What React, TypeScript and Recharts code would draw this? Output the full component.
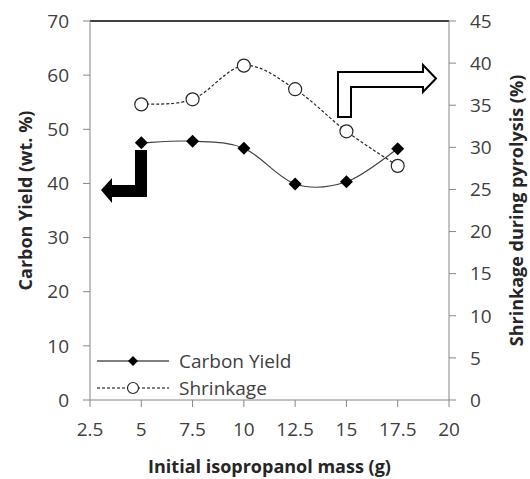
import {
  ComposedChart,
  Line,
  XAxis,
  YAxis,
  ReferenceLine,
} from 'recharts'

const massG = [5, 7.5, 10, 12.5, 15, 17.5]
const carbonYield = [47.5, 47.8, 46.5, 39.9, 40.3, 46.4]
const shrinkage = [35.1, 35.7, 39.7, 36.9, 31.9, 27.8]
const xTicks = [2.5, 5, 7.5, 10, 12.5, 15, 17.5, 20]
const leftTicks = [0, 10, 20, 30, 40, 50, 60, 70]
const rightTicks = [0, 5, 10, 15, 20, 25, 30, 35, 40, 45]

const data = massG.map((m, i) => ({ mass: m, carbon: carbonYield[i], shrink: shrinkage[i] }))

const FONT = '"Open Sans", "Noto Sans", sans-serif'
const tickStyle = { fill: '#404040', fontSize: 19, fontFamily: FONT }
const titleStyle = { fontFamily: FONT, fontSize: 18, fontWeight: 700, fill: '#262626' }

// Excel-like smoothed line (uniform Catmull-Rom as cubic beziers)
function smoothCurve(context: any) {
  let pts: number[][] = []
  return {
    areaStart() {},
    areaEnd() {},
    lineStart() {
      pts = []
    },
    point(x: number, y: number) {
      pts.push([+x, +y])
    },
    lineEnd() {
      if (!pts.length) return
      context.moveTo(pts[0][0], pts[0][1])
      for (let i = 0; i < pts.length - 1; i++) {
        const p0 = pts[i - 1] || pts[i]
        const p1 = pts[i]
        const p2 = pts[i + 1]
        const p3 = pts[i + 2] || pts[i + 1]
        context.bezierCurveTo(
          p1[0] + (p2[0] - p0[0]) / 6,
          p1[1] + (p2[1] - p0[1]) / 6,
          p2[0] - (p3[0] - p1[0]) / 6,
          p2[1] - (p3[1] - p1[1]) / 6,
          p2[0],
          p2[1]
        )
      }
    },
  }
}

function Diamond({ cx, cy }: any) {
  if (cx == null || cy == null) return null
  const r = 6.5
  return (
    <polygon
      points={`${cx},${cy - r} ${cx + r},${cy} ${cx},${cy + r} ${cx - r},${cy}`}
      fill="#000"
    />
  )
}

function OpenCircle({ cx, cy }: any) {
  if (cx == null || cy == null) return null
  return <circle cx={cx} cy={cy} r={6.5} fill="#fff" stroke="#262626" strokeWidth={1.2} />
}

function LegendBox() {
  const row = (label: string, dashed: boolean) => (
    <div style={{ display: 'flex', alignItems: 'center', height: 27 }}>
      <svg width={72} height={14}>
        <line
          x1={0}
          y1={7}
          x2={72}
          y2={7}
          stroke="#000"
          strokeWidth={1}
          strokeDasharray={dashed ? '3 2' : undefined}
        />
        {dashed ? (
          <circle cx={36} cy={7} r={5.5} fill="#fff" stroke="#262626" strokeWidth={1.2} />
        ) : (
          <polygon points="36,2 41,7 36,12 31,7" fill="#000" />
        )}
      </svg>
      <span style={{ marginLeft: 10, fontSize: 19, color: '#404040', fontFamily: FONT }}>{label}</span>
    </div>
  )
  return (
    <div style={{ position: 'absolute', left: 97, top: 347 }}>
      {row('Carbon Yield', false)}
      {row('Shrinkage', true)}
    </div>
  )
}

function LeftTitle({ viewBox }: any) {
  const x = 25
  const y = viewBox.y + viewBox.height / 2 - 10
  return (
    <text
      x={x}
      y={y}
      transform={`rotate(-90, ${x}, ${y})`}
      textAnchor="middle"
      dominantBaseline="central"
      style={titleStyle}
    >
      Carbon Yield (wt. %)
    </text>
  )
}

function RightTitle({ viewBox }: any) {
  const x = 516
  const y = viewBox.y + viewBox.height / 2
  return (
    <text
      x={x}
      y={y}
      transform={`rotate(-90, ${x}, ${y})`}
      textAnchor="middle"
      dominantBaseline="central"
      style={titleStyle}
    >
      Shrinkage during pyrolysis (%)
    </text>
  )
}

function Arrows() {
  return (
    <svg
      width={530}
      height={479}
      style={{ position: 'absolute', left: 0, top: 0, pointerEvents: 'none' }}
    >
      <polygon
        points="135,150 147,150 147,197 112,197 112,203 101,190 112,178 112,185 135,185"
        fill="#000"
      />
      <polygon
        points="338,117 351,117 351,87 423,87 423,92 436,78.5 423,65 423,72 338,72"
        fill="#fff"
        stroke="#000"
        strokeWidth={2}
      />
    </svg>
  )
}

export default function App() {
  return (
    <div style={{ position: 'absolute', left: 0, top: 0, width: 530, height: 479, background: '#fff' }}>
      <ComposedChart
        width={530}
        height={479}
        data={data}
        margin={{ top: 21, right: 0, left: 0, bottom: 0 }}
      >
        <XAxis
          dataKey="mass"
          type="number"
          domain={[2.5, 20]}
          ticks={xTicks}
          interval={0}
          height={79}
          stroke="#868686"
          tickSize={7}
          tickMargin={16}
          tick={tickStyle}
          tickFormatter={(v: number) => String(v)}
          label={{
            value: 'Initial isopropanol mass (g)',
            position: 'insideBottom',
            offset: 0,
            dy: -6,
            style: titleStyle,
          }}
        />
        <YAxis
          yAxisId="left"
          domain={[0, 70]}
          ticks={leftTicks}
          interval={0}
          width={90}
          stroke="#868686"
          tickSize={7}
          tickMargin={14}
          tick={tickStyle}
          label={<LeftTitle />}
        />
        <YAxis
          yAxisId="right"
          orientation="right"
          domain={[0, 45]}
          ticks={rightTicks}
          interval={0}
          width={81}
          stroke="#868686"
          tickSize={7}
          tickMargin={14}
          tick={tickStyle}
          label={<RightTitle />}
        />
        <ReferenceLine yAxisId="left" y={70} stroke="#000" strokeWidth={1.5} />
        <Line
          yAxisId="left"
          dataKey="carbon"
          name="Carbon Yield"
          type={smoothCurve as any}
          stroke="#404040"
          strokeWidth={1.2}
          dot={<Diamond />}
          activeDot={false}
          isAnimationActive={false}
        />
        <Line
          yAxisId="right"
          dataKey="shrink"
          name="Shrinkage"
          type={smoothCurve as any}
          stroke="#262626"
          strokeWidth={1.2}
          strokeDasharray="3 2"
          dot={<OpenCircle />}
          activeDot={false}
          isAnimationActive={false}
        />
      </ComposedChart>
      <LegendBox />
      <Arrows />
    </div>
  )
}
